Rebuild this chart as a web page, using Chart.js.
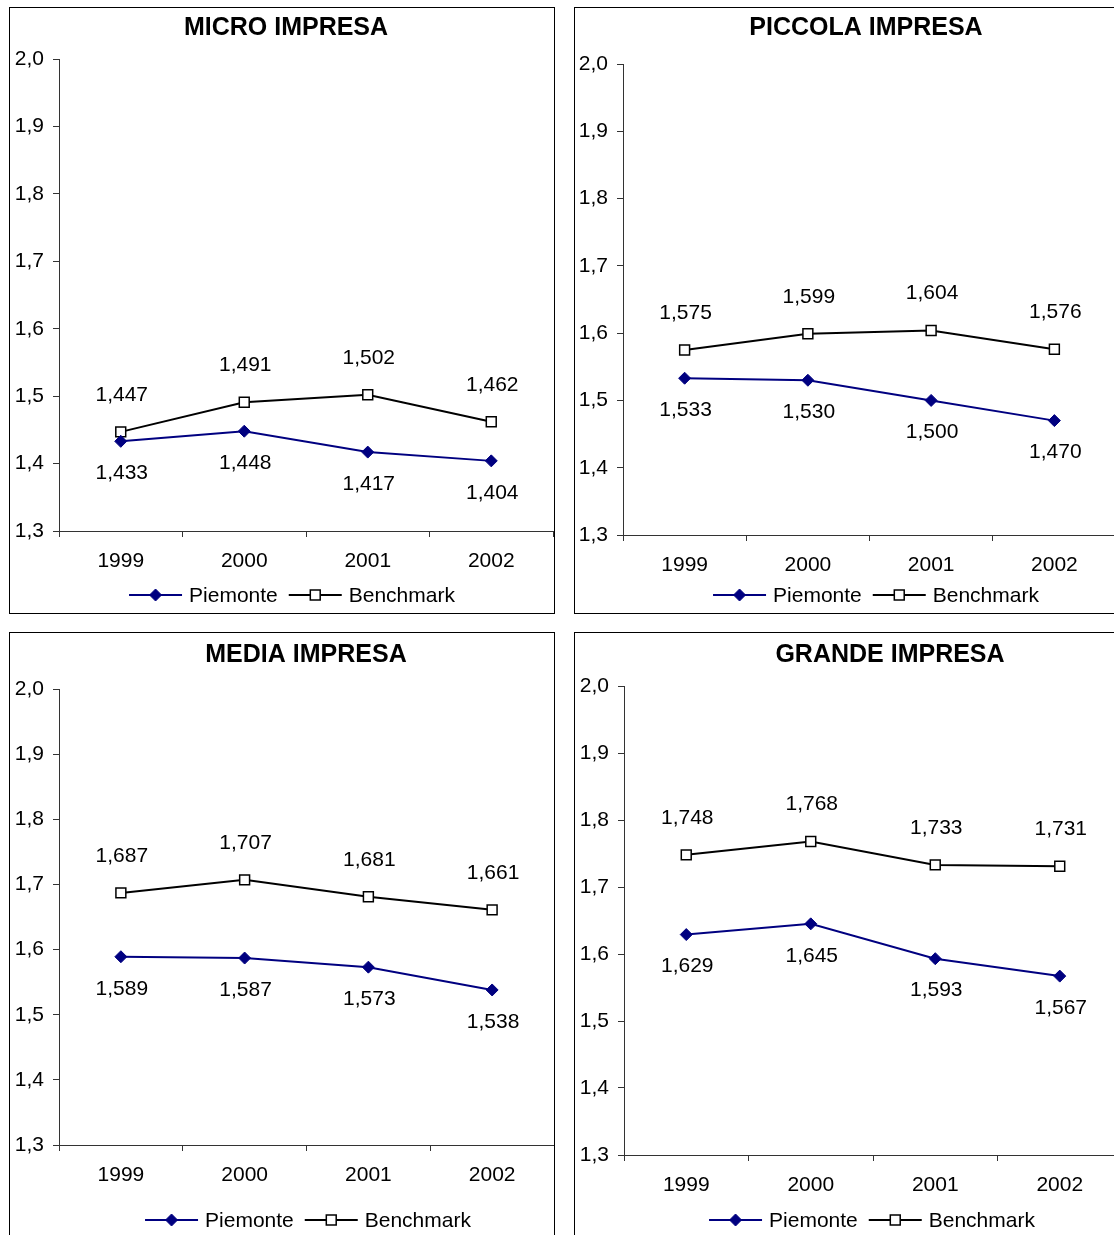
<!DOCTYPE html>
<html>
<head>
<meta charset="utf-8">
<title>Indicatore per classe dimensionale d'impresa</title>
<script src="https://cdn.jsdelivr.net/npm/chart.js@4"></script>
<style>
  html, body { margin: 0; padding: 0; background: #fff; overflow: hidden; width: 1114px; height: 1235px; }
  .panel { position: absolute; border: 1px solid #000; box-sizing: border-box; background: #fff; }
  .panel canvas { display: block; }
</style>
</head>
<body>
<script>
// ---- data ----
const years = ['1999', '2000', '2001', '2002'];
const seriesNames = ['Piemonte', 'Benchmark'];
const panelTitles = ['MICRO IMPRESA', 'PICCOLA IMPRESA', 'MEDIA IMPRESA', 'GRANDE IMPRESA'];

const microPiemonte    = [1.433, 1.448, 1.417, 1.404];
const microBenchmark   = [1.447, 1.491, 1.502, 1.462];
const piccolaPiemonte  = [1.533, 1.530, 1.500, 1.470];
const piccolaBenchmark = [1.575, 1.599, 1.604, 1.576];
const mediaPiemonte    = [1.589, 1.587, 1.573, 1.538];
const mediaBenchmark   = [1.687, 1.707, 1.681, 1.661];
const grandePiemonte   = [1.629, 1.645, 1.593, 1.567];
const grandeBenchmark  = [1.748, 1.768, 1.733, 1.731];

const yMin = 1.3;
const yMax = 2.0;
const yStep = 0.1;

// ---- page layout (page pixels) ----
// box: [left, top, width, height]; area: plot area [left, top, right, bottom]
const panelLayout = [
  { box: [9, 7, 546, 607],   area: [59, 59, 553, 531],    title: [286, 28],  legend: [292, 595] },
  { box: [574, 7, 560, 607], area: [623, 64, 1116, 535],  title: [866, 28],  legend: [876, 595] },
  { box: [9, 632, 546, 620], area: [59, 689, 554, 1145],  title: [306, 655], legend: [308, 1220] },
  { box: [574, 632, 560, 620], area: [624, 686, 1122, 1155], title: [890, 655], legend: [872, 1220] }
];

const panelSeries = [
  [microPiemonte, microBenchmark],
  [piccolaPiemonte, piccolaBenchmark],
  [mediaPiemonte, mediaBenchmark],
  [grandePiemonte, grandeBenchmark]
];

const FONT = "'Liberation Sans', Arial, sans-serif";
const NUM_SIZE = 21;
const TITLE_SIZE = 25;
const AXIS_COLOR = '#333';
const NAVY = '#000080';
const X_AXIS_H = 40;

Chart.defaults.font.family = FONT;
Chart.defaults.color = '#000';

const fmt3 = v => v.toFixed(3).replace('.', ',');
const fmt1 = v => Number(v).toFixed(1).replace('.', ',');

const seriesStyle = [
  { color: NAVY, fill: NAVY, pointStyle: 'rectRot', radius: 6, pointBorder: 1, labelDy: 32 },
  { color: '#000', fill: '#fff', pointStyle: 'rect', radius: 7, pointBorder: 1.5, labelDy: -37 }
];

// value labels, title and legend for each panel
const panelDecor = {
  id: 'panelDecor',
  afterDatasetsDraw(chart) {
    const ctx = chart.ctx;
    ctx.save();
    ctx.font = NUM_SIZE + 'px ' + FONT;
    ctx.fillStyle = '#000';
    ctx.textAlign = 'center';
    ctx.textBaseline = 'middle';
    chart.data.datasets.forEach((ds, di) => {
      const meta = chart.getDatasetMeta(di);
      meta.data.forEach((pt, i) => {
        ctx.fillText(fmt3(ds.data[i]), pt.x + 1, pt.y + seriesStyle[di].labelDy);
      });
    });
    ctx.restore();
  },
  afterDraw(chart, args, opts) {
    const ctx = chart.ctx;
    ctx.save();
    // title
    ctx.font = 'bold ' + TITLE_SIZE + 'px ' + FONT;
    ctx.fillStyle = '#000';
    ctx.textAlign = 'center';
    ctx.textBaseline = 'middle';
    ctx.fillText(opts.title, opts.titleX, opts.titleY);

    // legend: line with marker, then name
    ctx.font = NUM_SIZE + 'px ' + FONT;
    const lineW = 53, gapT = 7, gapItem = 11;
    const widths = seriesNames.map(n => ctx.measureText(n).width);
    const total = 2 * (lineW + gapT) + widths[0] + gapItem + widths[1];
    let x = opts.legendX - total / 2;
    const y = opts.legendY;
    seriesNames.forEach((name, i) => {
      const st = seriesStyle[i];
      ctx.strokeStyle = st.color;
      ctx.lineWidth = 2;
      ctx.beginPath();
      ctx.moveTo(x, y);
      ctx.lineTo(x + lineW, y);
      ctx.stroke();
      ctx.fillStyle = st.fill;
      ctx.strokeStyle = st.color;
      ctx.lineWidth = st.pointBorder;
      Chart.helpers.drawPoint(ctx, { pointStyle: st.pointStyle, radius: st.radius, rotation: 0, borderWidth: st.pointBorder }, x + lineW / 2, y);
      ctx.fillStyle = '#000';
      ctx.textAlign = 'left';
      ctx.fillText(name, x + lineW + gapT, y + 1);
      x += lineW + gapT + widths[i] + gapItem;
    });
    ctx.restore();
  }
};

panelLayout.forEach((lay, p) => {
  const [bx, by, bw, bh] = lay.box;
  const div = document.createElement('div');
  div.className = 'panel';
  div.style.left = bx + 'px';
  div.style.top = by + 'px';
  div.style.width = bw + 'px';
  div.style.height = bh + 'px';
  const cw = bw - 2, ch = bh - 2;
  const ox = bx + 1, oy = by + 1;
  const canvas = document.createElement('canvas');
  canvas.width = cw;
  canvas.height = ch;
  canvas.style.width = cw + 'px';
  canvas.style.height = ch + 'px';
  div.appendChild(canvas);
  document.body.appendChild(div);

  const aLeft = lay.area[0] - ox;
  const aTop = lay.area[1] - oy;
  const aRight = lay.area[2] - ox;
  const aBottom = lay.area[3] - oy;

  const datasets = seriesNames.map((name, i) => {
    const st = seriesStyle[i];
    return {
      label: name,
      data: panelSeries[p][i],
      borderColor: st.color,
      backgroundColor: st.fill,
      borderWidth: 2,
      pointStyle: st.pointStyle,
      pointRadius: st.radius,
      pointHoverRadius: st.radius,
      pointBackgroundColor: st.fill,
      pointBorderColor: st.color,
      pointBorderWidth: st.pointBorder,
      tension: 0,
      clip: false
    };
  });

  new Chart(canvas, {
    type: 'line',
    data: { labels: years, datasets: datasets },
    options: {
      responsive: false,
      animation: false,
      devicePixelRatio: 1,
      layout: {
        autoPadding: false,
        padding: { left: 0, top: aTop, right: cw - aRight, bottom: ch - aBottom - X_AXIS_H }
      },
      plugins: {
        legend: { display: false },
        title: { display: false },
        tooltip: { enabled: false },
        panelDecor: {
          title: panelTitles[p],
          titleX: lay.title[0] - ox,
          titleY: lay.title[1] - oy,
          legendX: lay.legend[0] - ox,
          legendY: lay.legend[1] - oy
        }
      },
      scales: {
        x: {
          offset: true,
          ticks: { padding: 12, color: '#000', font: { size: NUM_SIZE }, maxRotation: 0, autoSkip: false },
          grid: { display: true, offset: true, drawOnChartArea: false, drawTicks: true, tickLength: 6, color: AXIS_COLOR, lineWidth: 1 },
          border: { display: true, color: AXIS_COLOR, width: 1 },
          afterFit: s => { s.height = X_AXIS_H; s.paddingLeft = 0; s.paddingRight = 0; }
        },
        y: {
          min: yMin,
          max: yMax,
          ticks: { stepSize: yStep, padding: 9, color: '#000', font: { size: NUM_SIZE }, callback: v => fmt1(v) },
          grid: { display: true, drawOnChartArea: false, drawTicks: true, tickLength: 6, color: AXIS_COLOR, lineWidth: 1 },
          border: { display: true, color: AXIS_COLOR, width: 1 },
          afterFit: s => { s.width = aLeft; s.paddingTop = 0; s.paddingBottom = 0; }
        }
      }
    },
    plugins: [panelDecor]
  });
});
</script>
</body>
</html>
